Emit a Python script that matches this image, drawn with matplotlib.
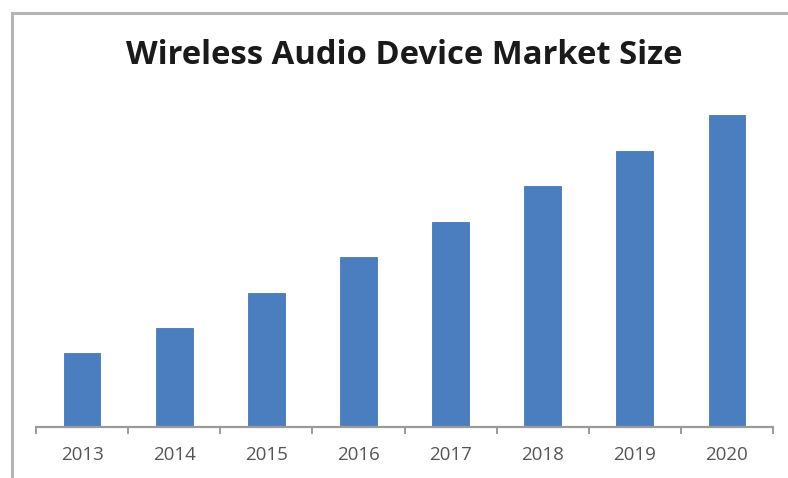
import matplotlib
matplotlib.use("Agg")
import matplotlib.pyplot as plt
from matplotlib.lines import Line2D

years = ["2013", "2014", "2015", "2016", "2017", "2018", "2019", "2020"]
market_size = [74, 99, 134, 170, 205, 241, 276, 312]

W, H = 788, 478
fig = plt.figure(figsize=(W / 100, H / 100), dpi=100)
fig.patch.set_facecolor("white")

def fx(px):
    return px / W

def fy(py):
    return 1 - py / H

ax_left, ax_right = 36, 773
ax_bottom, ax_top = 427, 97
ax = fig.add_axes([fx(ax_left), fy(ax_bottom), (ax_right - ax_left) / W, (ax_bottom - ax_top) / H])

x = list(range(len(years)))
ax.bar(x, market_size, width=0.40, color="#4A7EBE", edgecolor="#4677B4", linewidth=0.6, zorder=2)
ax.set_xlim(-0.5, len(years) - 0.5)
ax.set_ylim(0, ax_bottom - ax_top)

for s in ["top", "left", "right"]:
    ax.spines[s].set_visible(False)
ax.spines["bottom"].set_color("#9a9a9a")
ax.spines["bottom"].set_linewidth(1.6)
ax.set_yticks([])
ax.set_xticks(x)
ax.set_xticklabels(years, fontsize=13.5, color="#555555", family=["Open Sans", "DejaVu Sans"])
ax.tick_params(axis="x", which="major", length=0, pad=14)
ax.set_xticks([i - 0.5 for i in range(len(years) + 1)], minor=True)
ax.tick_params(axis="x", which="minor", length=5, width=1.4, color="#9a9a9a", direction="out")

# chart border lines (top and left)
fig.add_artist(Line2D([fx(12), 1], [fy(13), fy(13)], color="#b4b4b4", linewidth=2.2))
fig.add_artist(Line2D([fx(12), fx(12)], [fy(13), 0], color="#b4b4b4", linewidth=2.2))

fig.text(fx(404), fy(56), "Wireless Audio Device Market Size", ha="center", va="center",
         fontsize=23.6, fontweight="bold", color="#1a1a1a", family=["Open Sans", "DejaVu Sans"])

fig.savefig("out.png", dpi=100, facecolor="white")
